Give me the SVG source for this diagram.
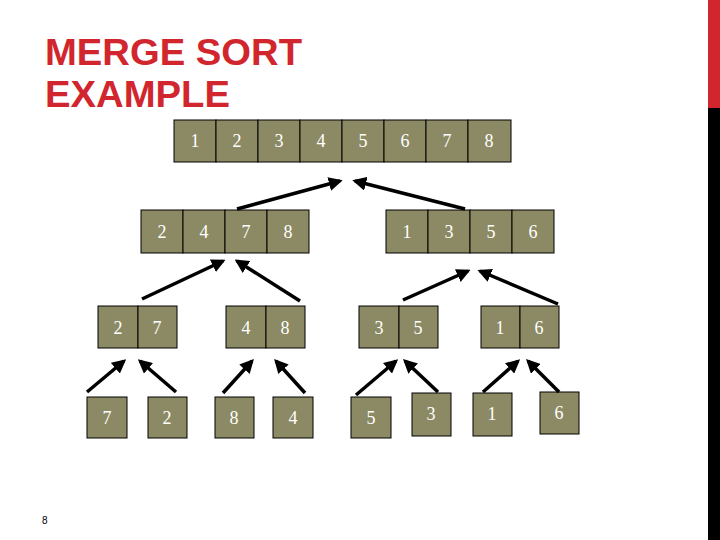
<svg xmlns="http://www.w3.org/2000/svg" width="720" height="540" viewBox="0 0 720 540">
<defs>
<style>
.c{fill:#8c8a64;stroke:#000;stroke-width:1}
.t{font-family:"Liberation Serif",serif;font-size:18px;fill:#fff;text-anchor:middle}
.a{stroke:#000;stroke-width:3.5;fill:none;marker-end:url(#ah)}
.h{font-family:"Liberation Sans",Arial,sans-serif;font-weight:bold;font-size:37px;fill:#d1262e}
</style>
<marker id="ah" viewBox="0 0 10 10" refX="8" refY="5" markerWidth="4" markerHeight="4" orient="auto" markerUnits="strokeWidth"><path d="M0,0L10,5L0,10z" fill="#000"/></marker>
</defs>
<rect width="720" height="540" fill="#fff"/>
<rect x="708" y="0" width="12" height="108" fill="#d1262e"/>
<rect x="708" y="108" width="12" height="432" fill="#000"/>
<text class="h" x="45" y="65" textLength="257" lengthAdjust="spacingAndGlyphs">MERGE SORT</text>
<text class="h" x="45" y="107" textLength="185" lengthAdjust="spacingAndGlyphs">EXAMPLE</text>
<text x="42" y="524" font-family="Liberation Sans,sans-serif" font-size="10" fill="#000">8</text>
<g id="top">
<rect class="c" x="174" y="120" width="42" height="42"/><rect class="c" x="216" y="120" width="42" height="42"/><rect class="c" x="258" y="120" width="42" height="42"/><rect class="c" x="300" y="120" width="42" height="42"/><rect class="c" x="342" y="120" width="42" height="42"/><rect class="c" x="384" y="120" width="42" height="42"/><rect class="c" x="426" y="120" width="42" height="42"/><rect class="c" x="468" y="120" width="43" height="42"/>
<text class="t" x="195" y="147">1</text><text class="t" x="237" y="147">2</text><text class="t" x="279" y="147">3</text><text class="t" x="321" y="147">4</text><text class="t" x="363" y="147">5</text><text class="t" x="405" y="147">6</text><text class="t" x="447" y="147">7</text><text class="t" x="489" y="147">8</text>
</g>
<g id="l2a">
<rect class="c" x="141" y="210" width="42" height="43"/><rect class="c" x="183" y="210" width="42" height="43"/><rect class="c" x="225" y="210" width="42" height="43"/><rect class="c" x="267" y="210" width="42" height="43"/>
<text class="t" x="162" y="238">2</text><text class="t" x="204" y="238">4</text><text class="t" x="246" y="238">7</text><text class="t" x="288" y="238">8</text>
</g>
<g id="l2b">
<rect class="c" x="386" y="210" width="42" height="43"/><rect class="c" x="428" y="210" width="42" height="43"/><rect class="c" x="470" y="210" width="42" height="43"/><rect class="c" x="512" y="210" width="42" height="43"/>
<text class="t" x="407" y="238">1</text><text class="t" x="449" y="238">3</text><text class="t" x="491" y="238">5</text><text class="t" x="533" y="238">6</text>
</g>
<g id="l3a"><rect class="c" x="98" y="306" width="40" height="42"/><rect class="c" x="138" y="306" width="39" height="42"/><text class="t" x="118" y="334">2</text><text class="t" x="157" y="334">7</text></g>
<g id="l3b"><rect class="c" x="226" y="306" width="40" height="42"/><rect class="c" x="266" y="306" width="39" height="42"/><text class="t" x="246" y="334">4</text><text class="t" x="285" y="334">8</text></g>
<g id="l3c"><rect class="c" x="359" y="306" width="40" height="42"/><rect class="c" x="399" y="306" width="39" height="42"/><text class="t" x="379" y="334">3</text><text class="t" x="418" y="334">5</text></g>
<g id="l3d"><rect class="c" x="481" y="306" width="39" height="42"/><rect class="c" x="520" y="306" width="39" height="42"/><text class="t" x="500" y="334">1</text><text class="t" x="539" y="334">6</text></g>
<g id="l4a"><rect class="c" x="87" y="397" width="40" height="41"/><text class="t" x="107" y="424">7</text></g>
<g id="l4b"><rect class="c" x="148" y="397" width="39" height="41"/><text class="t" x="167" y="424">2</text></g>
<g id="l4c"><rect class="c" x="215" y="397" width="39" height="41"/><text class="t" x="234" y="424">8</text></g>
<g id="l4d"><rect class="c" x="273" y="397" width="40" height="41"/><text class="t" x="293" y="424">4</text></g>
<g id="l4e"><rect class="c" x="351" y="397" width="40" height="41"/><text class="t" x="371" y="424">5</text></g>
<g id="l4f"><rect class="c" x="412" y="393" width="39" height="43"/><text class="t" x="431" y="420">3</text></g>
<g id="l4g"><rect class="c" x="473" y="393" width="39" height="43"/><text class="t" x="492" y="420">1</text></g>
<g id="l4h"><rect class="c" x="540" y="392" width="39" height="42"/><text class="t" x="559" y="419">6</text></g>
<g id="connectors">
<line class="a" x1="237" y1="209" x2="340" y2="181"/>
<line class="a" x1="465" y1="209" x2="355" y2="181"/>
<line class="a" x1="142" y1="299" x2="223" y2="261"/>
<line class="a" x1="300" y1="301" x2="237" y2="261"/>
<line class="a" x1="403" y1="300" x2="468" y2="271"/>
<line class="a" x1="558" y1="304" x2="480" y2="271"/>
<line class="a" x1="87" y1="392" x2="124" y2="361"/>
<line class="a" x1="176" y1="392" x2="140" y2="361"/>
<line class="a" x1="223" y1="393" x2="252" y2="361"/>
<line class="a" x1="305" y1="393" x2="276" y2="361"/>
<line class="a" x1="356" y1="395" x2="396" y2="361"/>
<line class="a" x1="438" y1="392" x2="405" y2="361"/>
<line class="a" x1="483" y1="392" x2="518" y2="361"/>
<line class="a" x1="559" y1="392" x2="528" y2="361"/>
</g>
</svg>
